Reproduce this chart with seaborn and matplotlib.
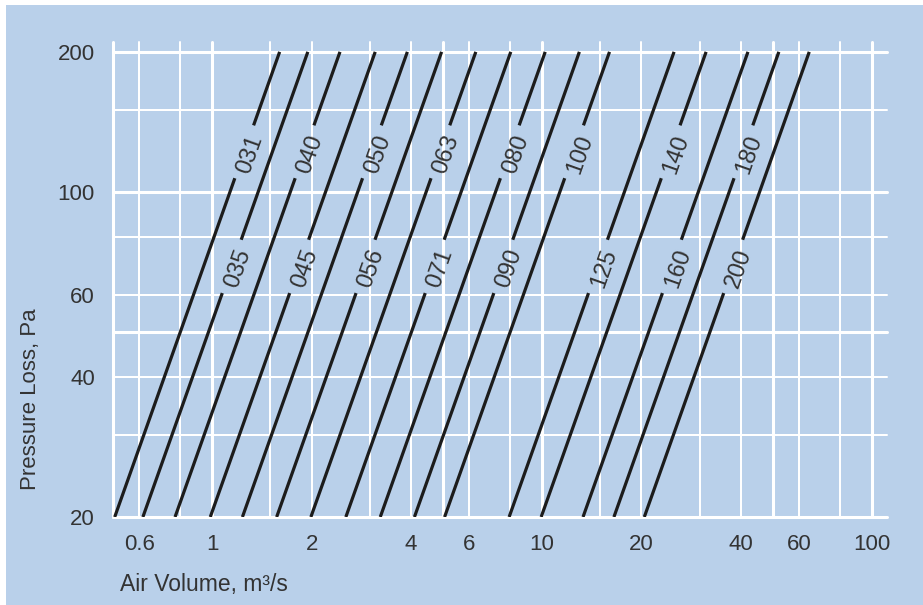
import numpy as np
import pandas as pd
import matplotlib
matplotlib.use("Agg")
import matplotlib.pyplot as plt
from matplotlib.patches import Rectangle
from matplotlib.ticker import NullLocator
import seaborn as sns

# Tamaños y caudal (m3/s) a 20 Pa; p ~ Q^2
sizes = ["031", "035", "040", "045", "050", "056", "063", "071",
         "080", "090", "100", "125", "140", "160", "180", "200"]
q_at_20pa = [0.506, 0.616, 0.771, 0.986, 1.234, 1.567, 1.99, 2.54,
             3.23, 4.10, 5.06, 7.94, 9.93, 13.3, 16.5, 20.4]
p_min, p_max = 20, 200

x_grid = [0.5, 0.6, 0.8, 1, 1.5, 2, 3, 4, 5, 6, 8, 10, 15, 20, 30, 40, 50, 60, 80, 100]
x_major = [0.5, 1, 5, 10, 50, 100]
y_grid = [20, 30, 40, 50, 60, 80, 100, 150, 200]
y_major = [20, 50, 100, 200]
x_ticks = [0.6, 1, 2, 4, 6, 10, 20, 40, 60, 100]
x_ticklabels = ["0.6", "1", "2", "4", "6", "10", "20", "40", "60", "100"]
y_ticks = [20, 40, 60, 100, 200]
y_ticklabels = ["20", "40", "60", "100", "200"]

# huecos para las etiquetas (Pa)
gap_upper = (107, 139)
gap_lower = (60.6, 78.9)

BG = "#b9d0ea"
TXT = "#333333"
LINE = "#1c1c1c"

sns.set_style("white")
plt.rcParams["font.family"] = ["Liberation Sans", "DejaVu Sans"]

# Datos de segmentos
rows = []
labels = []
for i, (s, q0) in enumerate(zip(sizes, q_at_20pa)):
    g = gap_upper if i % 2 == 0 else gap_lower
    for k, (pa, pb) in enumerate([(p_min, g[0]), (g[1], p_max)]):
        for p in (pa, pb):
            rows.append({"seg": f"{s}_{k}", "q": q0 * np.sqrt(p / p_min), "p": p})
    p_mid = np.sqrt(g[0] * g[1])
    labels.append((s, q0 * np.sqrt(p_mid / p_min), p_mid, q0))
df = pd.DataFrame(rows)

fig = plt.figure(figsize=(9.23, 6.05), dpi=100)
fig.patch.set_facecolor("white")
fig.patches.append(Rectangle((6 / 923, 0), 1, 600 / 605, transform=fig.transFigure,
                             facecolor=BG, edgecolor="none", zorder=-10))
ax = fig.add_axes([113 / 923, 1 - 517 / 605, 774 / 923, 475 / 605])
ax.set_zorder(1)
ax.set_facecolor(BG)
ax.set_xscale("log")
ax.set_yscale("log")

for x in x_grid:
    ax.axvline(x, color="white", lw=2.2 if x in x_major else 1.45, zorder=1, clip_on=False)
for y in y_grid:
    ax.axhline(y, color="white", lw=2.2 if y in y_major else 1.45, zorder=1, clip_on=False)

sns.lineplot(data=df, x="q", y="p", units="seg", estimator=None, sort=False,
             color=LINE, lw=2.3, legend=False, ax=ax, zorder=3)
for ln in ax.lines[-len(df["seg"].unique()):]:
    ln.set_solid_capstyle("butt")

ax.set_xlim(0.5, 111)
ax.set_ylim(20, 210)
for sp in ax.spines.values():
    sp.set_visible(False)

ax.set_xticks(x_ticks, x_ticklabels)
ax.set_yticks(y_ticks, y_ticklabels)
ax.xaxis.set_minor_locator(NullLocator())
ax.yaxis.set_minor_locator(NullLocator())
ax.tick_params(axis="x", length=0, pad=12, labelsize=16, labelcolor=TXT)
ax.tick_params(axis="y", length=0, pad=13, labelsize=16, labelcolor=TXT)
ax.set_xlabel("")
ax.set_ylabel("")

# etiquetas sobre las líneas
for s, qx, py, q0 in labels:
    a = ax.transData.transform((q0, p_min))
    b = ax.transData.transform((q0 * np.sqrt(p_max / p_min), p_max))
    ang = np.degrees(np.arctan2(b[1] - a[1], b[0] - a[0]))
    ax.annotate(s, (qx, py), xytext=(2.5, -1.0), textcoords="offset points",
                rotation=ang, rotation_mode="anchor", ha="center", va="center_baseline",
                fontsize=17, color=TXT, zorder=4)

fig.text(120 / 923, 1 - 585 / 605, "Air Volume, m³/s", ha="left", va="center",
         fontsize=16.5, color=TXT)
fig.text(31 / 923, 1 - 490 / 605, "Pressure Loss, Pa", ha="center", va="bottom",
         rotation=90, fontsize=16, color=TXT)

fig.savefig("out.png", dpi=100, facecolor=fig.get_facecolor())
